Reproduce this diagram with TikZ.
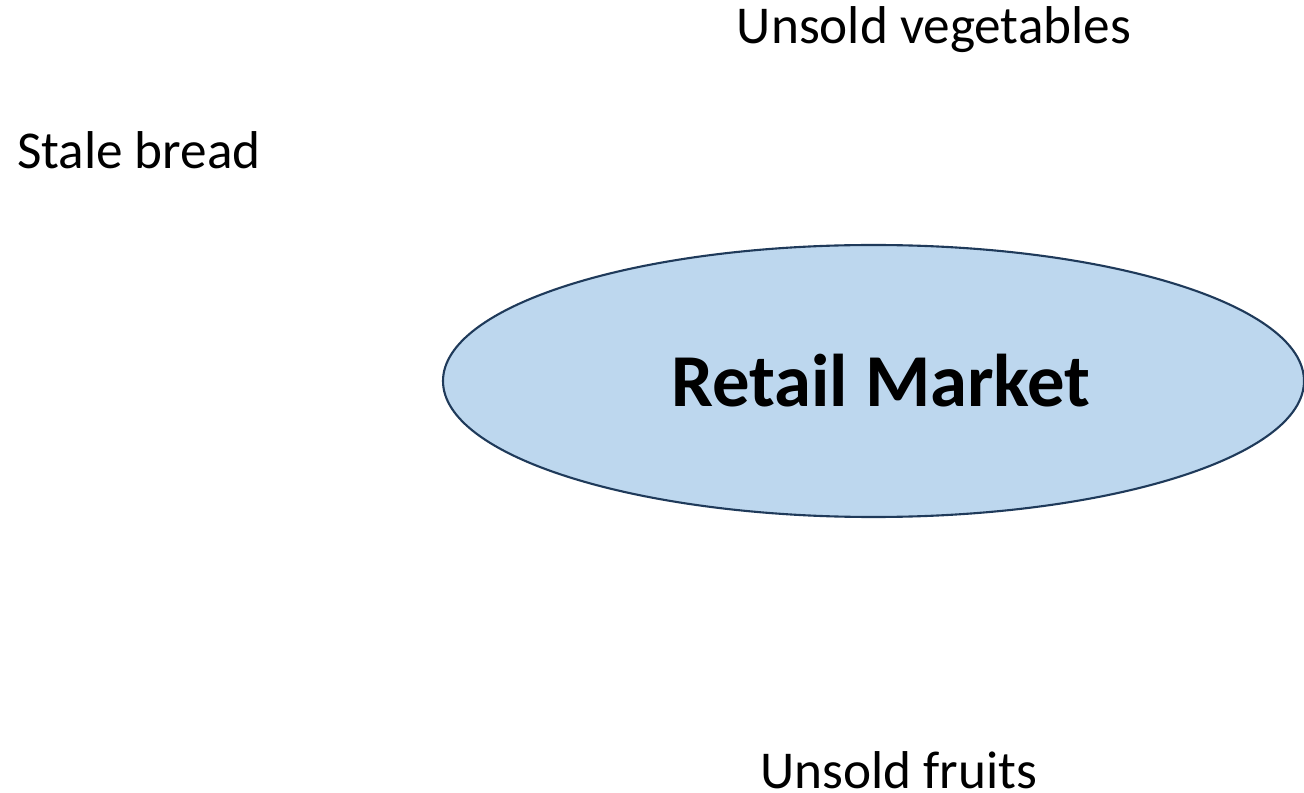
\documentclass[tikz,border=0pt]{standalone}
\usepackage{fontspec}
\setmainfont{Carlito}
\usepackage{xcolor}
\usetikzlibrary{positioning, shapes.geometric}

\definecolor{marketfill}{HTML}{BDD7EE}
\definecolor{marketline}{HTML}{1F3A5A}

\tikzset{
    waste/.style={inner sep=0pt, font=\fontsize{30.3}{36}\selectfont},
    market/.style={ellipse, draw=marketline, fill=marketfill, line width=1.2pt,
        minimum width=861*0.02cm, minimum height=272*0.02cm, inner sep=0pt,
        font=\fontsize{42.5}{50}\selectfont\bfseries}
}

\begin{document}
\begin{tikzpicture}[x=0.02cm, y=-0.02cm]
    \useasboundingbox (0,0) rectangle (1304,793);
    % Retail market in the middle
    \node[market] (retail) at (873.5,381) {\hspace*{0.3cm}Retail Market};
    % waste streams round it
    \node[waste] (bread) at (139,150) {Stale bread};
    \node[waste] (veg) at (934,30) {Unsold vegetables};
    \node[waste] (fruits) at (899,770) {Unsold fruits};
\end{tikzpicture}
\end{document}
